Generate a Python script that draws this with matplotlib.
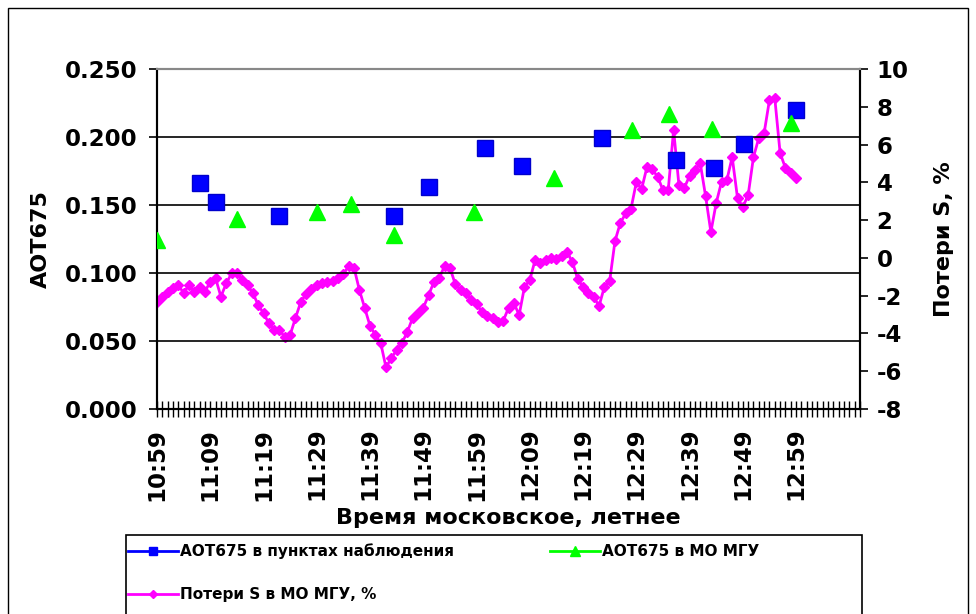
import matplotlib
matplotlib.use("Agg")
import matplotlib.pyplot as plt
from matplotlib.lines import Line2D
from matplotlib.patches import Rectangle
from matplotlib.ticker import MultipleLocator, FixedLocator

# minutes counted from 10:59
time_labels = ["10:59", "11:09", "11:19", "11:29", "11:39", "11:49", "11:59",
               "12:09", "12:19", "12:29", "12:39", "12:49", "12:59"]
label_minutes = [0, 10, 20, 30, 40, 50, 60, 70, 80, 90, 100, 110, 120]

# losses of S at MO MGU, %, one value per minute 10:59 .. 12:59
loss_s = [-2.32, -2.05, -1.79, -1.61, -1.43, -1.87, -1.43, -1.79, -1.52, -1.79,
          -1.26, -1.08, -2.05, -1.35, -0.82, -0.78, -1.17, -1.43, -1.87, -2.49,
          -2.93, -3.46, -3.82, -3.82, -4.19, -4.08, -3.18, -2.33, -1.91, -1.65,
          -1.43, -1.33, -1.26, -1.22, -1.06, -0.85, -0.43, -0.53, -1.70, -2.65,
          -3.60, -4.08, -4.50, -5.80, -5.30, -4.88, -4.50, -3.92, -3.18, -2.92,
          -2.65, -1.96, -1.28, -1.06, -0.43, -0.53, -1.38, -1.70, -1.86, -2.23,
          -2.44, -2.86, -3.08, -3.18, -3.39, -3.34, -2.65, -2.39, -3.02, -1.54,
          -1.17, -0.11, -0.27, -0.11, 0.00, -0.06, 0.10, 0.31, -0.22, -1.12,
          -1.54, -1.86, -2.07, -2.55, -1.54, -1.22, 0.90, 1.85, 2.35, 2.60,
          4.00, 3.65, 4.81, 4.68, 4.30, 3.59, 3.62, 6.77, 3.86, 3.70,
          4.34, 4.65, 5.02, 3.28, 1.37, 2.91, 4.02, 4.12, 5.34, 3.17,
          2.69, 3.33, 5.34, 6.35, 6.61, 8.36, 8.46, 5.55, 4.76, 4.49,
          4.23]
loss_min = list(range(len(loss_s)))

# AOT675 at observation points
aot_pts_min = [8, 11, 23, 44.5, 51, 61.5, 68.5, 83.5, 97.5, 104.5, 110.2, 120]
aot_pts = [0.166, 0.152, 0.142, 0.142, 0.163, 0.192, 0.179, 0.199, 0.183,
           0.177, 0.195, 0.220]

# AOT675 at MO MGU
aot_mgu_min = [0, 15, 30, 36.5, 44.5, 59.5, 74.5, 89.2, 96.2, 104.2, 119]
aot_mgu = [0.124, 0.140, 0.145, 0.151, 0.128, 0.145, 0.170, 0.205, 0.217,
           0.206, 0.210]

BLUE = "#0000FF"
GREEN = "#00FF00"
MAGENTA = "#FF00FF"
bold = dict(family="DejaVu Sans", weight="bold")

fig = plt.figure(figsize=(9.76, 6.14), dpi=100)
W, H = 976, 614
ax = fig.add_axes([157 / W, 1 - 409 / H, (860 - 157) / W, (409 - 69) / H])
ax2 = ax.twinx()

ax.set_xlim(0, 132)
ax.set_ylim(0, 0.25)
ax2.set_ylim(-8, 10)

# horizontal grid on the left scale
for g in [0.05, 0.10, 0.15, 0.20]:
    ax.axhline(g, color="black", lw=1.2, zorder=0)

ax2.plot(loss_min, loss_s, color=MAGENTA, lw=2, marker="D", ms=5.5,
         mec=MAGENTA, mfc=MAGENTA, zorder=3)
ax.plot(aot_pts_min, aot_pts, ls="none", marker="s", ms=11.5,
        color=BLUE, mec="#0000CC", zorder=4)
ax.plot(aot_mgu_min, aot_mgu, ls="none", marker="^", ms=11.5,
        color=GREEN, mec=GREEN, zorder=4)
ax.set_zorder(ax2.get_zorder() + 1)
ax.patch.set_visible(False)

# x axis: a tick every minute, labels every ten minutes
ax.xaxis.set_major_locator(FixedLocator(label_minutes))
ax.xaxis.set_minor_locator(MultipleLocator(1))
ax.set_xticklabels(time_labels, rotation=90, **bold, fontsize=16.5)
ax.tick_params(axis="x", which="both", direction="inout", length=11, width=1,
               pad=8)
ax.set_xlabel("Время московское, летнее", fontsize=16, labelpad=5, **bold)

ax.yaxis.set_major_locator(MultipleLocator(0.05))
ax.set_yticklabels([f"{v:.3f}" for v in ax.get_yticks()], **bold, fontsize=16.5)
ax.tick_params(axis="y", direction="out", length=6, width=1.2, pad=8)
ax.set_ylabel("АОТ675", fontsize=16, labelpad=10, **bold)

ax2.set_yticks(range(-8, 11, 2))
ax2.set_yticklabels([str(v) for v in range(-8, 11, 2)], **bold, fontsize=16.5)
ax2.tick_params(axis="y", direction="out", length=6, width=1.2, pad=6)
ax2.set_ylabel("Потери S, %", fontsize=16, labelpad=18, **bold)

for a in (ax, ax2):
    a.spines["left"].set_linewidth(1.5)
    a.spines["right"].set_linewidth(1.5)
    a.spines["bottom"].set_linewidth(1.5)
    a.spines["top"].set_color("#888888")
    a.spines["top"].set_linewidth(1.5)

# chart frame and legend frame
fig.add_artist(Rectangle((8 / W, -0.1), 960 / W, 1.1 - 8 / H,
                         transform=fig.transFigure, fill=False,
                         ec="black", lw=1))
fig.add_artist(Rectangle((126 / W, -0.1), (862 - 126) / W, 0.1 + 1 - 535 / H,
                         transform=fig.transFigure, fill=False,
                         ec="black", lw=1.2))

handles = [
    Line2D([], [], color=BLUE, lw=2, marker="s", ms=6, label="АОТ675 в пунктах наблюдения"),
    Line2D([], [], color=MAGENTA, lw=2, marker="D", ms=4, label="Потери S в МО МГУ, %"),
    Line2D([], [], color=GREEN, lw=2, marker="^", ms=7, label="АОТ675 в МО МГУ"),
]
fig.legend(handles=handles, ncol=2, loc="upper left",
           bbox_to_anchor=(114 / W, 1 - 530 / H), bbox_transform=fig.transFigure,
           frameon=False, handlelength=3.3, handletextpad=0.1,
           columnspacing=6.3, labelspacing=1.8,
           prop=dict(family="DejaVu Sans", weight="bold", size=11))

fig.savefig("out.png", dpi=100)
